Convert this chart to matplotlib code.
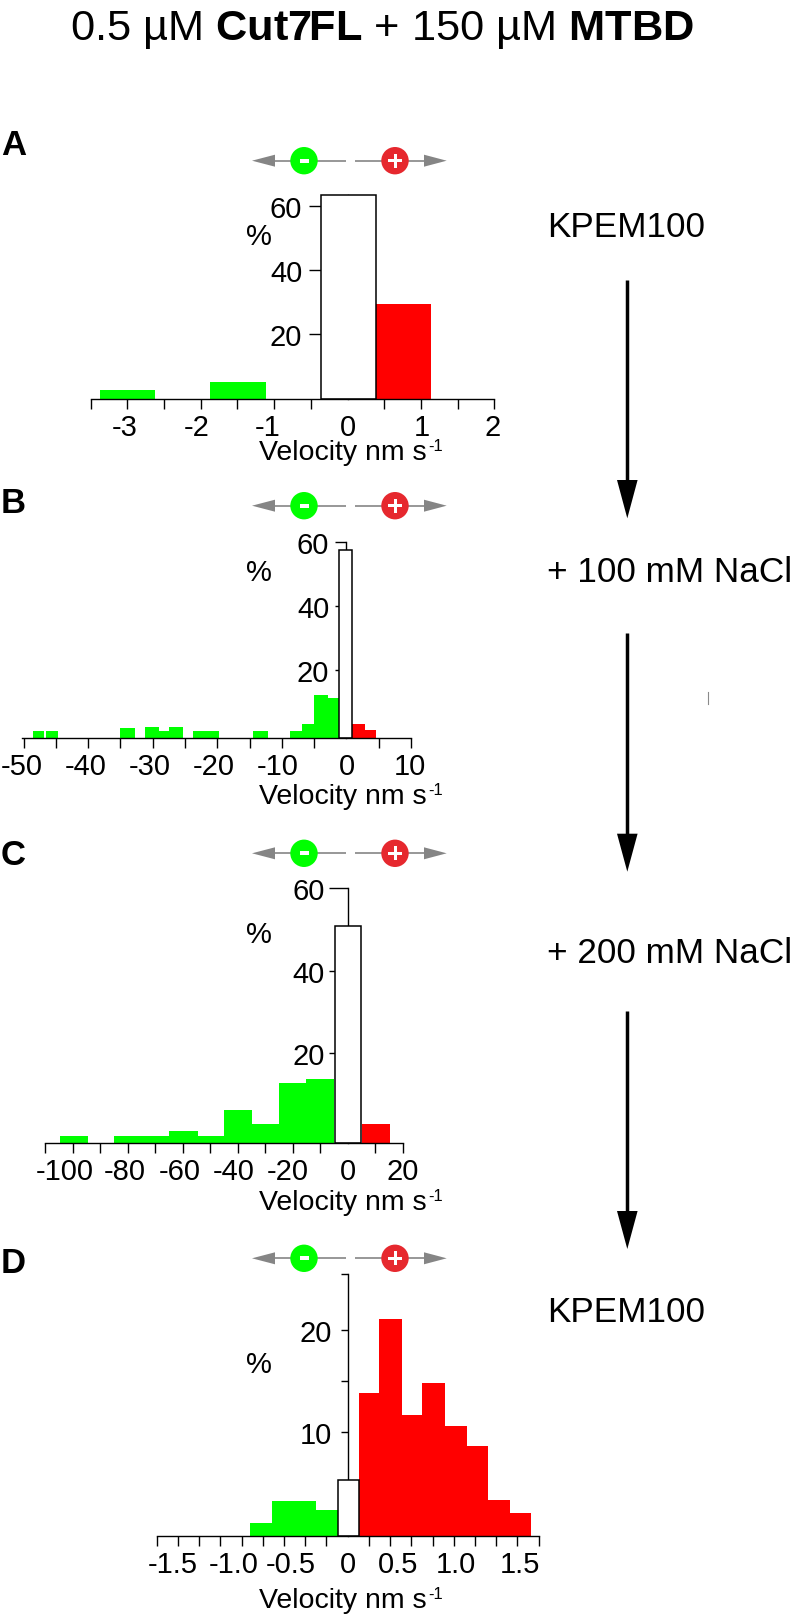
import numpy as np
import matplotlib
matplotlib.use("Agg")
import matplotlib.pyplot as plt
from matplotlib.patches import Circle, Polygon, Rectangle

plt.rcParams['font.family'] = ['Liberation Sans', 'DejaVu Sans']
plt.rcParams['mathtext.fontset'] = 'custom'
plt.rcParams['mathtext.rm'] = 'Liberation Sans'
plt.rcParams['mathtext.bf'] = 'Liberation Sans:bold'
plt.rcParams['mathtext.default'] = 'regular'

# histogram bins (bin edges in nm/s, heights in %)
# *_zero is the index of the white bar, green before it and red after it
a_left = [-3.38, -1.88, -0.36, 0.39]
a_right = [-2.62, -1.11, 0.39, 1.14]
a_pct = [2.6, 5.0, 63.6, 29.4]
a_zero = 2
a_xlabels = ['-3', '-2', '-1', '0', '1', '2']

b_left = [-48.5, -46.5, -35.0, -31.2, -29.0, -27.5, -23.7, -21.7, -14.4, -8.7, -6.9, -5.0, -2.8, -1.1, 0.8, 2.8]
b_right = [-46.8, -44.7, -32.8, -29.0, -27.5, -25.3, -21.7, -19.7, -12.2, -6.9, -5.0, -2.8, -1.2, 0.8, 2.8, 4.6]
b_pct = [2.3, 2.3, 3.1, 3.3, 2.3, 3.3, 2.3, 2.3, 2.3, 2.3, 4.4, 13.4, 12.6, 58.6, 4.4, 2.4]
b_zero = 13
b_xlabels = ['-50', '-40', '-30', '-20', '-10', '0', '10']

c_left = [-104.8, -85.0, -74.9, -65.0, -54.5, -45.1, -34.7, -25.1, -15.2, -4.8, 5.2]
c_right = [-94.4, -74.9, -65.0, -54.5, -45.1, -34.7, -25.1, -15.2, -5.1, 4.9, 15.4]
c_pct = [1.8, 1.8, 1.7, 2.9, 1.7, 8.1, 4.7, 14.5, 15.6, 52.4, 4.6]
c_zero = 9
c_xlabels = ['-100', '-80', '-60', '-40', '-20', '0', '20']

d_left = [-0.767, -0.594, -0.419, -0.249, -0.079, 0.089, 0.249, 0.424, 0.586, 0.764, 0.935, 1.105, 1.275]
d_right = [-0.594, -0.419, -0.249, -0.079, 0.089, 0.249, 0.424, 0.586, 0.764, 0.935, 1.105, 1.275, 1.44]
d_pct = [1.3, 3.45, 3.4, 2.5, 5.5, 14.05, 21.3, 11.9, 15.0, 10.8, 8.8, 3.5, 2.3]
d_zero = 4
d_xlabels = ['-1.5', '-1.0', '-0.5', '0', '0.5', '1.0', '1.5']

W, H = 796, 1615
FS = 21
GREEN = '#00ff00'
RED = '#ff0000'
GRAY = '#858585'

fig = plt.figure(figsize=(W / 100, H / 100), dpi=100, facecolor='white')

# overlay in image pixels for everything that is not a data mark
deco = fig.add_axes([0, 0, 1, 1], zorder=5)
deco.set_xlim(0, W)
deco.set_ylim(H, 0)
deco.axis('off')
deco.patch.set_alpha(0)


def px(v):
    return v * 72 / 100


def draw_panel(left, right, pct, zero, xlabels, label_x, xticks, xlim, ylim, yticks, ylabels,
               x_px, base_px, top_px, tick_px, pad_px):
    ax = fig.add_axes([x_px[0] / W, 1 - base_px / H, (x_px[1] - x_px[0]) / W, (base_px - top_px) / H])
    ax.patch.set_alpha(0)
    left, right, pct = np.array(left), np.array(right), np.array(pct)
    for i in range(len(pct)):
        if i == zero:
            ax.bar(left[i], pct[i], right[i] - left[i], bottom=ylim[0], align='edge', color='white',
                   edgecolor='black', linewidth=1.1, zorder=3, clip_on=False)
        else:
            ax.bar(left[i], pct[i], right[i] - left[i], bottom=ylim[0], align='edge',
                   color=GREEN if i < zero else RED, linewidth=0, zorder=2.8, clip_on=False)
    ax.set_xlim(*xlim)
    ax.set_ylim(*ylim)
    for s in ['top', 'right']:
        ax.spines[s].set_visible(False)
    ax.spines['left'].set_position(('data', 0))
    ax.spines['left'].set_zorder(1)
    ax.spines['left'].set_linewidth(1.0)
    ax.spines['bottom'].set_zorder(4)
    ax.spines['bottom'].set_linewidth(1.0)
    ax.set_axisbelow(True)
    # real tick marks are minor, the labels sit where the original has them
    ax.set_xticks(xticks, minor=True)
    ax.set_xticks(label_x, xlabels)
    ax.tick_params(axis='x', which='minor', length=px(10), width=1.0, direction='out')
    ax.tick_params(axis='x', which='major', length=0, pad=px(14), labelsize=FS)
    ax.set_yticks(yticks, ylabels)
    ax.tick_params(axis='y', length=px(tick_px), width=1.0, pad=px(pad_px), labelsize=FS)
    return ax


def direction_arrows(y):
    deco.plot([275, 345.7], [y, y], color=GRAY, lw=1.2, solid_capstyle='butt')
    deco.plot([355, 424], [y, y], color=GRAY, lw=1.2, solid_capstyle='butt')
    deco.add_patch(Polygon([[252, y], [275, y - 6], [275, y + 6]], color=GRAY, lw=0))
    deco.add_patch(Polygon([[446.7, y], [424, y - 6], [424, y + 6]], color=GRAY, lw=0))
    deco.add_patch(Circle((304, y), 13.7, color=GREEN, lw=0, zorder=3))
    deco.add_patch(Circle((395, y), 13.7, color='#e6282e', lw=0, zorder=3))
    deco.add_patch(Rectangle((299.5, y - 2), 9, 4, color='white', lw=0, zorder=4))
    deco.add_patch(Rectangle((388, y - 1.5), 14, 3, color='white', lw=0, zorder=4))
    deco.add_patch(Rectangle((393.5, y - 7), 3, 14, color='white', lw=0, zorder=4))


def down_arrow(y0, y1, tip):
    deco.plot([627.3, 627.3], [y0, y1], color='black', lw=2.5, solid_capstyle='butt')
    deco.add_patch(Polygon([[617, y1], [637.6, y1], [627.3, tip]], color='black', lw=0))


draw_panel(a_left, a_right, a_pct, a_zero, a_xlabels, [-3.04, -2.06, -1.09, 0, 1.01, 1.975],
           np.arange(-3.5, 2.01, 0.5), (-3.5, 2), (0, 63.6), [20, 40, 60], ['20', '40', '60'],
           (90.7, 494.3), 399.5, 195.7, 38.7, 6.5)
draw_panel(b_left, b_right, b_pct, b_zero, b_xlabels, [-50.3, -40.4, -30.4, -20.6, -10.6, 0, 9.8],
           np.arange(-50, 10.1, 5), (-50, 10), (-1.25, 60), [20, 40, 60], ['20', '40', '60'],
           (21.7, 411), 739, 542.7, 11.3, 6)
draw_panel(c_left, c_right, c_pct, c_zero, c_xlabels, [-103, -81, -61.1, -41.6, -21.9, 0, 19.9],
           np.arange(-110, 20.1, 10), (-110, 20), (-1.7, 60), [20, 40, 60], ['20', '40', '60'],
           (45.3, 402.7), 1144, 889, 19.3, 3.5)
draw_panel(d_left, d_right, d_pct, d_zero, d_xlabels, [-1.377, -0.898, -0.445, 0, 0.398, 0.851, 1.353],
           np.arange(-9, 9.1) / 6, (-1.5, 1.5), (-0.23, 25.45), [10, 15, 20, 25.45], ['10', '', '20', ''],
           (156.7, 538.7), 1537, 1275, 7, 9)

deco.text(382, 40, r"0.5 µM $\mathbf{Cut7FL}$ + 150 µM $\mathbf{MTBD}$", fontsize=31.2,
          ha='center', va='baseline')

for letter, y in zip('ABCD', [155, 513, 865, 1273]):
    deco.text(1, y, letter, fontsize=25, fontweight='bold', va='baseline')

for y in [460, 804, 1210, 1608]:
    deco.text(259, y, 'Velocity nm s', fontsize=20.5, va='baseline')
    deco.text(428.5, y - 9, '-1', fontsize=12, va='baseline')

for y in [236.7, 573, 935, 1365]:
    deco.text(259, y, '%', fontsize=FS, ha='center', va='center')

for y in [161.7, 506.7, 854.3, 1259.3]:
    direction_arrows(y)

deco.text(547, 237.3, 'KPEM100', fontsize=25.3, va='baseline')
deco.text(547, 582, '+ 100 mM NaCl', fontsize=25.3, va='baseline', clip_on=True)
deco.text(547, 962.7, '+ 200 mM NaCl', fontsize=25.3, va='baseline', clip_on=True)
deco.text(547, 1321.7, 'KPEM100', fontsize=25.3, va='baseline')

down_arrow(280.7, 481, 519.3)
down_arrow(634.3, 834.7, 872.7)
down_arrow(1012, 1212, 1250)

# stray mark right of the second arrow
deco.plot([708.3, 708.3], [692.7, 705], color='#8a8a8a', lw=0.8)

fig.savefig('out.png', dpi=100)
